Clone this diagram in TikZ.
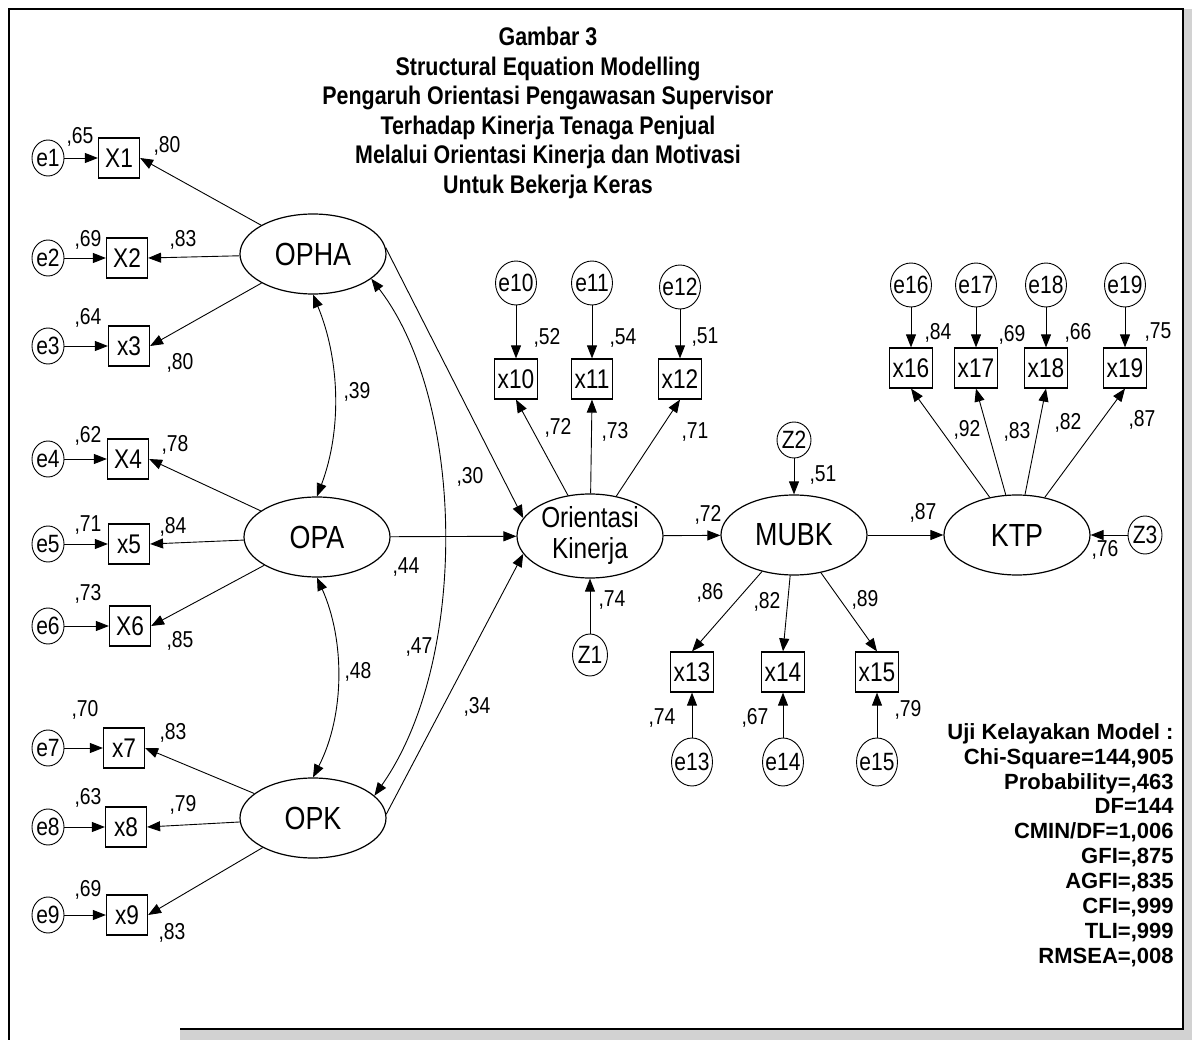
\documentclass[tikz,border=0pt]{standalone}
\usepackage{fontspec}
\setmainfont[FakeStretch=0.84]{Liberation Sans}
\newfontfamily\statsfont{Liberation Sans}
\usetikzlibrary{arrows.meta,shapes.geometric}

\begin{document}
\begin{tikzpicture}[
  x=1pt, y=-1pt,
  line width=0.9pt,
  every node/.style={inner sep=0pt},
  latent/.style={ellipse, draw, line width=1.2pt, minimum width=146pt, minimum height=80pt, font=\fontsize{32}{36}\selectfont},
  obs/.style={draw, line width=1.2pt, minimum width=41pt, minimum height=40pt, inner sep=3pt, font=\fontsize{27}{30}\selectfont},
  err/.style={ellipse, draw, minimum width=32pt, minimum height=36pt, font=\fontsize{25}{28}\selectfont},
  errbig/.style={err, minimum width=41pt, minimum height=44pt},
  arr/.style={-{Triangle[length=13pt,width=10pt]}},
  covar/.style={{Triangle[length=13pt,width=10pt]}-{Triangle[length=13pt,width=10pt]}},
  coef/.style={font=\fontsize{23}{26}\selectfont}
]
  \useasboundingbox (0,0) rectangle (1192,1040);

  % scanned edge and frame
  \fill[gray!35] (1183,9) rectangle (1192,1040);
  \fill[gray!35] (180,1029) rectangle (1192,1040);
  \draw[line width=1.8pt] (180,1029) -- (1183,1029) -- (1183,9) -- (9,9) -- (9,1040);

  % title
  \node[align=center, font=\fontsize{25.5}{29.5}\selectfont\bfseries] (head) at (548,113)
    {Gambar 3\\Structural Equation Modelling\\Pengaruh Orientasi Pengawasan Supervisor\\Terhadap Kinerja Tenaga Penjual\\Melalui Orientasi Kinerja dan Motivasi\\Untuk Bekerja Keras};

  % latent variables
  \node[latent] (opha) at (313,254) {OPHA};
  \node[latent] (opa) at (317,537) {OPA};
  \node[latent] (opk) at (313,818) {OPK};
  \node[latent, align=center, font=\fontsize{29}{31}\selectfont, inner ysep=-3pt, minimum height=84pt] (orient) at (590,536) {Orientasi\\Kinerja};
  \node[latent] (mubk) at (794,535) {MUBK};
  \node[latent] (ktp) at (1017,535) {KTP};

  % left indicators
  \foreach \i/\lab/\bx/\y in {1/X1/119/158, 2/X2/127/258, 3/x3/129/346, 4/X4/128/459, 5/x5/129/544,
                              6/X6/130/626, 7/x7/124/748, 8/x8/126/827, 9/x9/127/915} {
    \node[obs] (x\i) at (\bx,\y) {\lab};
    \node[err] (e\i) at (48,\y) {\makebox[0pt]{e\i}};
    \draw[arr] (e\i) -- (x\i);
  }
  \foreach \i in {1,2,3} \draw[arr] (opha) -- (x\i.east);
  \foreach \i in {4,5,6} \draw[arr] (opa) -- (x\i.east);
  \foreach \i in {7,8,9} \draw[arr] (opk) -- (x\i.east);

  % Orientasi Kinerja indicators
  \foreach \i/\bx/\ey in {10/516/283, 11/592/283, 12/680/287} {
    \node[obs] (x\i) at (\bx,379) {x\i};
    \node[errbig] (e\i) at (\bx,\ey) {\makebox[0pt]{e\i}};
    \draw[arr] (e\i) -- (x\i);
    \draw[arr] (orient) -- (x\i.south);
  }

  % MUBK indicators
  \foreach \i/\bx in {13/692, 14/783, 15/877} {
    \node[obs] (x\i) at (\bx,672) {x\i};
    \node[errbig, minimum height=48pt] (e\i) at (\bx,762) {\makebox[0pt]{e\i}};
    \draw[arr] (e\i) -- (x\i);
    \draw[arr] (mubk) -- (x\i.north);
  }

  % KTP indicators
  \foreach \i/\bx in {16/911, 17/976, 18/1046, 19/1125} {
    \node[obs] (x\i) at (\bx,368) {x\i};
    \node[errbig] (e\i) at (\bx,285) {\makebox[0pt]{e\i}};
    \draw[arr] (e\i) -- (x\i);
    \draw[arr] (ktp) -- (x\i.south);
  }

  % disturbances
  \node[err, minimum width=35pt, minimum height=42pt] (z1) at (590,655) {\makebox[0pt]{Z1}};
  \node[err, minimum width=34pt, minimum height=36pt] (z2) at (794,440) {\makebox[0pt]{Z2}};
  \node[err, minimum width=34pt, minimum height=38pt] (z3) at (1145,535) {\makebox[0pt]{Z3}};
  \draw[arr] (z1) -- (orient);
  \draw[arr] (z2) -- (mubk);
  \draw[arr] (z3) -- (ktp);

  % structural paths
  \draw[arr] (orient) -- (mubk);
  \draw[arr] (mubk) -- (ktp);
  \draw[arr] (opa) -- (orient);
  \draw[arr] (opha.5) -- (orient.165);
  \draw[arr] (opk.3) -- (orient.195);

  % correlations between the exogenous factors
  \draw[covar] (opha.south) .. controls (340,360) and (342,430) .. (opa.north);
  \draw[covar] (opa.south) .. controls (345,640) and (345,715) .. (opk.north);
  \draw[covar] (opha.337) .. controls (465,400) and (470,660) .. (opk.20);

  % squared multiple correlations
  \foreach \i/\x/\y/\v in {1/80/137/65, 2/88/240/69, 3/88/318/64, 4/88/436/62, 5/88/525/71, 6/88/594/73,
                           7/85/710/70, 8/88/798/63, 9/88/890/69, 10/547/338/52, 11/623/338/54, 12/705/337/51,
                           13/662/718/74, 14/755/718/67, 15/908/710/79, 16/938/333/84, 17/1012/335/69,
                           18/1078/333/66, 19/1158/332/75}
    \node[coef] (r\i) at (\x,\y) {,\v};

  % loadings
  \foreach \i/\x/\y/\v in {1/167/146/80, 2/183/240/83, 3/180/363/80, 4/175/445/78, 5/173/527/84, 6/180/641/85,
                           7/173/733/83, 8/183/805/79, 9/172/933/83, 10/558/428/72, 11/615/432/73, 12/695/432/71,
                           13/710/593/86, 14/767/602/82, 15/865/600/89, 16/967/430/92, 17/1017/432/83,
                           18/1068/423/82, 19/1142/420/87}
    \node[coef] (l\i) at (\x,\y) {,\v};

  % path and disturbance coefficients
  \foreach \nm/\x/\y/\v in {b1/470/477/30, b2/406/567/44, b3/419/647/47, b4/477/707/34, b5/708/515/72,
                            b6/923/513/87, c1/357/392/39, c2/358/672/48, d1/612/600/74, d2/823/475/51,
                            d3/1105/550/76}
    \node[coef] (\nm) at (\x,\y) {,\v};

  % fit indices
  \node[anchor=east, align=right, font=\statsfont\bfseries\fontsize{22}{24.9}\selectfont] (fit) at (1174,845)
    {Uji Kelayakan Model :\\Chi-Square=144,905\\Probability=,463\\DF=144\\CMIN/DF=1,006\\GFI=,875\\AGFI=,835\\CFI=,999\\TLI=,999\\RMSEA=,008};
\end{tikzpicture}
\end{document}
